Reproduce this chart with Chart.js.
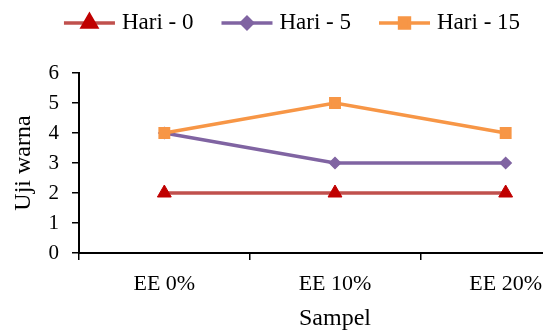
<!DOCTYPE html>
<html>
<head>
<meta charset="utf-8">
<script src="https://cdn.jsdelivr.net/npm/chart.js@4/dist/chart.umd.min.js"></script>
<style>
  html, body { margin: 0; padding: 0; background: #fff; overflow: hidden; }
  #wrap { width: 543px; height: 333px; overflow: hidden; position: relative; }
  canvas { display: block; }
</style>
</head>
<body>
<div id="wrap"><canvas id="c" width="600" height="333"></canvas></div>
<script>
// Samples on the x axis
const categories = ['EE 0%', 'EE 10%', 'EE 20%'];
// Colour test scores per storage day
const hari0 = [2, 2, 2];
const hari5 = [4, 3, 3];
const hari15 = [4, 5, 4];
const seriesNames = ['Hari - 0', 'Hari - 5', 'Hari - 15'];
const yTickValues = [0, 1, 2, 3, 4, 5, 6];

const FONT = "'Liberation Serif', 'DejaVu Serif', serif";

// Line sample + marker legend drawn along the top
const lineLegend = {
  id: 'lineLegend',
  afterDraw(chart) {
    const ctx = chart.ctx;
    const sample = 51, gapText = 7, gapItem = 28, cy = 23, centerX = 292;
    ctx.save();
    ctx.font = '23px ' + FONT;
    const items = chart.data.datasets.map(ds => ({ ds, w: ctx.measureText(ds.label).width }));
    const total = items.reduce((s, it) => s + sample + gapText + it.w, 0) + gapItem * (items.length - 1);
    let x = centerX - total / 2;
    items.forEach(({ ds, w }) => {
      ctx.strokeStyle = ds.borderColor;
      ctx.lineWidth = ds.borderWidth;
      ctx.beginPath();
      ctx.moveTo(x, cy);
      ctx.lineTo(x + sample, cy);
      ctx.stroke();
      ctx.fillStyle = ds.pointBackgroundColor;
      ctx.strokeStyle = ds.pointBorderColor;
      Chart.helpers.drawPoint(ctx, {
        pointStyle: ds.pointStyle,
        radius: ds.pointRadius,
        borderWidth: ds.pointBorderWidth,
        rotation: 0
      }, x + sample / 2, cy);
      ctx.fillStyle = '#000';
      ctx.textBaseline = 'middle';
      ctx.textAlign = 'left';
      ctx.fillText(ds.label, x + sample + gapText, cy);
      x += sample + gapText + w + gapItem;
    });
    ctx.restore();
  }
};

new Chart(document.getElementById('c'), {
  type: 'line',
  data: {
    labels: categories,
    datasets: [
      {
        label: seriesNames[0], data: hari0, order: 3,
        borderColor: '#C0504D', borderWidth: 3.5,
        pointStyle: 'triangle', pointRadius: 8, pointBorderWidth: 1,
        pointBackgroundColor: '#C00000', pointBorderColor: '#C00000',
        pointHoverRadius: 8
      },
      {
        label: seriesNames[1], data: hari5, order: 2,
        borderColor: '#8064A2', borderWidth: 3.5,
        pointStyle: 'rectRot', pointRadius: 5.5, pointBorderWidth: 1.5,
        pointBackgroundColor: '#8064A2', pointBorderColor: '#8064A2',
        pointHoverRadius: 5.5
      },
      {
        label: seriesNames[2], data: hari15, order: 1,
        borderColor: '#F79646', borderWidth: 3.5,
        pointStyle: 'rect', pointRadius: 7, pointBorderWidth: 2,
        pointBackgroundColor: '#F79646', pointBorderColor: '#F79646',
        pointHoverRadius: 7
      }
    ]
  },
  options: {
    responsive: false,
    devicePixelRatio: 1,
    animation: false,
    layout: { padding: { top: 73, left: 0, right: 5, bottom: 0 } },
    plugins: {
      legend: { display: false },
      tooltip: { enabled: false }
    },
    scales: {
      x: {
        offset: true,
        grid: { display: true, offset: true, drawOnChartArea: false, color: '#000', lineWidth: 1.5, tickLength: 7 },
        border: { display: true, color: '#000', width: 2 },
        ticks: { color: '#000', font: { family: FONT, size: 22 }, padding: 11, maxRotation: 0, autoSkip: false },
        title: { display: true, text: 'Sampel', color: '#000', font: { family: FONT, size: 24 }, padding: { top: 0, bottom: 0 } },
        afterFit(scale) { scale.height = 80; }
      },
      y: {
        min: 0, max: 6,
        afterBuildTicks(scale) { scale.ticks = yTickValues.map(v => ({ value: v })); },
        grid: { display: true, drawOnChartArea: false, color: '#000', lineWidth: 1.5, tickLength: 7 },
        border: { display: true, color: '#000', width: 2 },
        ticks: { color: '#000', font: { family: FONT, size: 21 }, padding: 13 },
        title: { display: true, text: 'Uji warna', color: '#000', font: { family: FONT, size: 24 }, padding: { top: 9, bottom: 0 } },
        afterFit(scale) { scale.width = 79; }
      }
    }
  },
  plugins: [lineLegend]
});
</script>
</body>
</html>
